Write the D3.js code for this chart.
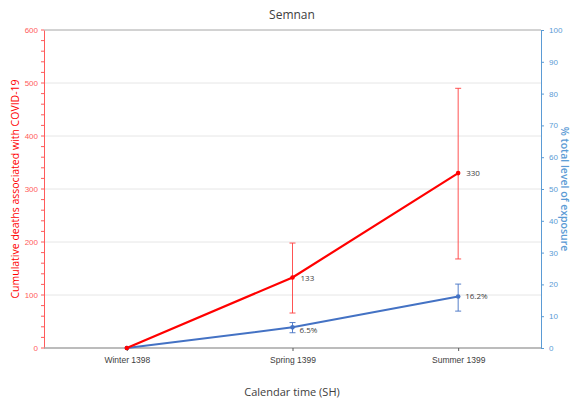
<!DOCTYPE html>
<html><head><meta charset="utf-8">
<script src="https://cdn.jsdelivr.net/npm/d3@7"></script>
<style>body{margin:0;background:#fff}svg{display:block;font-family:"Open Sans","Liberation Sans",sans-serif}</style>
</head><body><svg id="c" width="573" height="400"></svg>
<script>
const categories = ["Winter 1398", "Spring 1399", "Summer 1399"];
const deaths = [0, 133, 330];
const deathsLow = [0, 66, 168];
const deathsHigh = [0, 198, 490];
const deathLabels = ["", "133", "330"];
const exposure = [0, 6.5, 16.2];
const exposureLow = [0, 4.8, 11.6];
const exposureHigh = [0, 8.0, 20.1];
const exposureLabels = ["", "6.5%", "16.2%"];
const leftTicks = [0, 100, 200, 300, 400, 500, 600];
const rightTicks = [0, 10, 20, 30, 40, 50, 60, 70, 80, 90, 100];

const svg = d3.select("#c");
const L = 44, R = 541, T = 30, B = 348;
const x = d3.scalePoint().domain(categories).range([L, R]).padding(0.5);
const yL = d3.scaleLinear().domain([0, 600]).range([B, T]);
const yR = d3.scaleLinear().domain([0, 100]).range([B, T]);
const red = "#ff0000", blue = "#4472c4", redT = "#ff5b5b", blueT = "#5b9bd5";

svg.append("g").selectAll("line").data(leftTicks.filter(d => d > 0 && d < 600)).join("line")
  .attr("x1", L).attr("x2", R).attr("y1", d => yL(d)).attr("y2", d => yL(d))
  .attr("stroke", "#e6e6e6").attr("stroke-width", 1);
svg.append("line").attr("x1", L).attr("x2", R).attr("y1", yL(600)).attr("y2", yL(600)).attr("stroke", "#a6a6a6");

const gl = svg.append("g").attr("transform", `translate(${L},0)`)
  .call(d3.axisLeft(yL).tickValues(leftTicks).tickSize(0).tickPadding(6));
gl.select(".domain").attr("stroke", redT);
gl.selectAll("text").attr("fill", redT).attr("font-size", 8);
gl.append("g").selectAll("line").data(d3.range(0, 601, 20)).join("line")
  .attr("x1", -3).attr("x2", 0).attr("y1", d => yL(d)).attr("y2", d => yL(d)).attr("stroke", redT);

const gr = svg.append("g").attr("transform", `translate(${R},0)`)
  .call(d3.axisRight(yR).tickValues(rightTicks).tickSize(3).tickPadding(5));
gr.select(".domain").attr("stroke", blueT);
gr.selectAll(".tick line").attr("stroke", blueT);
gr.selectAll("text").attr("fill", blueT).attr("font-size", 8);

const gb = svg.append("g").attr("transform", `translate(0,${B})`)
  .call(d3.axisBottom(x).tickSize(3).tickPadding(6));
gb.select(".domain").attr("stroke", "#a6a6a6").attr("stroke-width", 1.5).attr("d", `M${L},0H${R}`);
gb.selectAll(".tick line").attr("stroke", "#595959");
gb.selectAll("text").attr("fill", "#404040").attr("font-size", 8.5);

function errBars(low, high, scale, color, w) {
  const g = svg.append("g").attr("stroke", color).attr("stroke-width", w);
  categories.forEach((c, i) => {
    if (high[i] === low[i]) return;
    const cx = x(c);
    g.append("line").attr("x1", cx).attr("x2", cx).attr("y1", scale(low[i])).attr("y2", scale(high[i]));
    g.append("line").attr("x1", cx - 3).attr("x2", cx + 3).attr("y1", scale(low[i])).attr("y2", scale(low[i]));
    g.append("line").attr("x1", cx - 3).attr("x2", cx + 3).attr("y1", scale(high[i])).attr("y2", scale(high[i]));
  });
}
errBars(deathsLow, deathsHigh, yL, "#ff4040", 0.9);
errBars(exposureLow, exposureHigh, yR, blue, 0.9);

const lineL = d3.line().x((d, i) => x(categories[i])).y(d => yL(d));
const lineR = d3.line().x((d, i) => x(categories[i])).y(d => yR(d));
svg.append("path").datum(exposure).attr("d", lineR).attr("fill", "none").attr("stroke", blue).attr("stroke-width", 2);
svg.append("path").datum(deaths).attr("d", lineL).attr("fill", "none").attr("stroke", red).attr("stroke-width", 2.2);
svg.append("g").selectAll("circle").data(exposure).join("circle")
  .attr("cx", (d, i) => x(categories[i])).attr("cy", d => yR(d)).attr("r", 2.3).attr("fill", blue);
svg.append("g").selectAll("circle").data(deaths).join("circle")
  .attr("cx", (d, i) => x(categories[i])).attr("cy", d => yL(d)).attr("r", 2.3).attr("fill", red);

svg.append("g").selectAll("text").data(deaths).join("text")
  .attr("x", (d, i) => x(categories[i]) + 8).attr("y", d => yL(d) + 3)
  .attr("font-size", 8).attr("fill", "#404040").text((d, i) => deathLabels[i]);
svg.append("g").selectAll("text").data(exposure).join("text")
  .attr("x", (d, i) => x(categories[i]) + 7).attr("y", (d, i) => yR(d) + (i === 1 ? 6 : 3))
  .attr("font-size", 8).attr("fill", "#404040").text((d, i) => exposureLabels[i]);

svg.append("text").attr("x", 292).attr("y", 19).attr("text-anchor", "middle")
  .attr("font-size", 12).attr("fill", "#404040").text("Semnan");
svg.append("text").attr("x", 292).attr("y", 396).attr("text-anchor", "middle")
  .attr("font-size", 11).attr("fill", "#404040").text("Calendar time (SH)");
svg.append("text").attr("transform", `translate(19,${(T + B) / 2}) rotate(-90)`).attr("text-anchor", "middle")
  .attr("font-size", 10.5).attr("fill", red).text("Cumulative deaths associated with COVID-19");
svg.append("text").attr("transform", `translate(561,${(T + B) / 2}) rotate(90)`).attr("text-anchor", "middle")
  .attr("font-size", 10.5).attr("font-weight", 600).attr("fill", blueT).text("% total level of exposure");
</script></body></html>
